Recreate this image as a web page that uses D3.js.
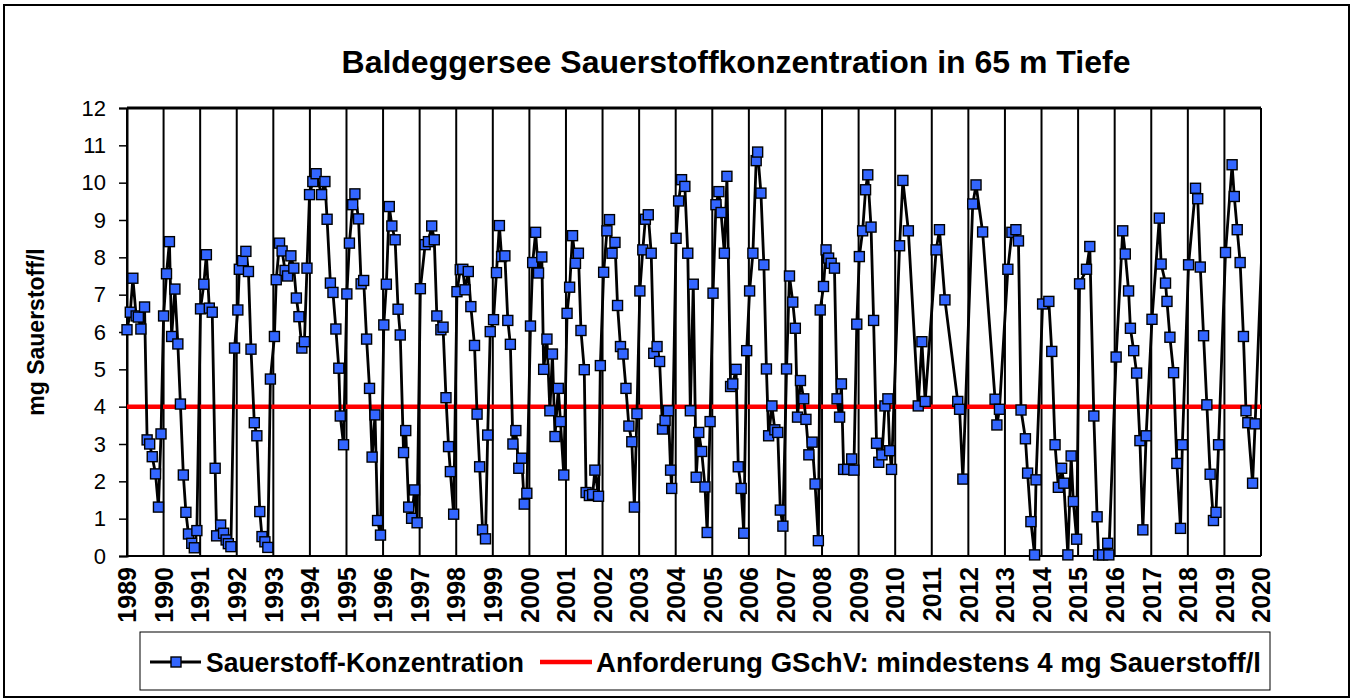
<!DOCTYPE html>
<html lang="de">
<head>
<meta charset="UTF-8">
<title>Baldeggersee Sauerstoffkonzentration</title>
<script src="https://d3js.org/d3.v7.min.js"></script>
<style>
    body { margin: 0; background: #ffffff; }
    svg { display: block; font-family: "Liberation Sans", Arial, sans-serif; }
    .grid line { stroke: #000; stroke-width: 2; }
    .ytick text { font-size: 22px; }
    .xtick text { font-size: 25px; font-weight: bold; }
</style>
</head>
<body>
<svg id="chart" width="1354" height="700"></svg>
<script>
// Messzeitpunkte (Dezimaljahr) und Sauerstoff in mg/l
const sampleYears = [
    1989.00, 1989.09, 1989.16, 1989.25, 1989.31, 1989.38, 1989.48, 1989.55, 1989.62, 1989.69, 1989.78, 1989.86, 1989.93,
    1990.00, 1990.08, 1990.16, 1990.22, 1990.31, 1990.39, 1990.46, 1990.54, 1990.61, 1990.68, 1990.77, 1990.84, 1990.91,
    1991.01, 1991.10, 1991.17, 1991.25, 1991.33, 1991.41, 1991.45, 1991.56, 1991.64, 1991.71, 1991.77, 1991.84, 1991.94,
    1992.03, 1992.07, 1992.16, 1992.25, 1992.32, 1992.39, 1992.48, 1992.55, 1992.63, 1992.69, 1992.77, 1992.85, 1992.92,
    1993.03, 1993.08, 1993.17, 1993.24, 1993.32, 1993.39, 1993.48, 1993.56, 1993.63, 1993.70, 1993.78, 1993.85, 1993.92, 1993.99,
    1994.08, 1994.17, 1994.32, 1994.41, 1994.47, 1994.56, 1994.63, 1994.71, 1994.79, 1994.83, 1994.92,
    1995.01, 1995.08, 1995.17, 1995.23, 1995.33, 1995.40, 1995.47, 1995.55, 1995.63, 1995.70, 1995.78, 1995.85, 1995.93,
    1996.02, 1996.09, 1996.17, 1996.24, 1996.33, 1996.41, 1996.47, 1996.56, 1996.62, 1996.70, 1996.78, 1996.86, 1996.93,
    1997.02, 1997.15, 1997.24, 1997.33, 1997.40, 1997.47, 1997.58, 1997.64, 1997.72, 1997.79, 1997.84, 1997.93,
    1998.02, 1998.11, 1998.18, 1998.24, 1998.33, 1998.40, 1998.50, 1998.57, 1998.64, 1998.72, 1998.80, 1998.86, 1998.93,
    1999.02, 1999.10, 1999.18, 1999.24, 1999.33, 1999.41, 1999.48, 1999.55, 1999.63, 1999.71, 1999.79, 1999.86, 1999.93,
    2000.03, 2000.09, 2000.17, 2000.25, 2000.34, 2000.39, 2000.48, 2000.56, 2000.63, 2000.70, 2000.79, 2000.85, 2000.94,
    2001.03, 2001.10, 2001.18, 2001.26, 2001.34, 2001.41, 2001.50, 2001.55, 2001.64, 2001.73, 2001.79, 2001.89, 2001.94,
    2002.03, 2002.12, 2002.19, 2002.26, 2002.34, 2002.41, 2002.49, 2002.56, 2002.64, 2002.72, 2002.80, 2002.87, 2002.94,
    2003.02, 2003.10, 2003.17, 2003.25, 2003.33, 2003.40, 2003.49, 2003.56, 2003.64, 2003.71, 2003.80, 2003.86, 2003.89,
    2004.01, 2004.08, 2004.16, 2004.25, 2004.33, 2004.40, 2004.48, 2004.56, 2004.63, 2004.71, 2004.80, 2004.86, 2004.94,
    2005.02, 2005.10, 2005.18, 2005.24, 2005.33, 2005.40, 2005.50, 2005.56, 2005.65, 2005.71, 2005.79, 2005.86, 2005.94,
    2006.02, 2006.11, 2006.20, 2006.24, 2006.33, 2006.41, 2006.48, 2006.54, 2006.63, 2006.71, 2006.79, 2006.86, 2006.93,
    2007.03, 2007.11, 2007.20, 2007.27, 2007.33, 2007.41, 2007.50, 2007.56, 2007.64, 2007.73, 2007.81, 2007.90, 2007.95,
    2008.04, 2008.11, 2008.18, 2008.25, 2008.34, 2008.41, 2008.48, 2008.53, 2008.59, 2008.70, 2008.81, 2008.87, 2008.95,
    2009.02, 2009.11, 2009.19, 2009.25, 2009.34, 2009.41, 2009.49, 2009.55, 2009.64, 2009.72, 2009.80, 2009.85, 2009.90,
    2010.12, 2010.21, 2010.36, 2010.63, 2010.73, 2010.82,
    2011.12, 2011.21, 2011.36, 2011.71, 2011.76, 2011.85,
    2012.12, 2012.21, 2012.39, 2012.73, 2012.78, 2012.85,
    2013.08, 2013.19, 2013.30, 2013.37, 2013.44, 2013.56, 2013.62, 2013.71, 2013.81, 2013.85,
    2014.03, 2014.20, 2014.28, 2014.37, 2014.46, 2014.55, 2014.61, 2014.72, 2014.81, 2014.87, 2014.96,
    2015.04, 2015.23, 2015.32, 2015.43, 2015.52, 2015.56, 2015.67, 2015.81, 2015.84,
    2016.04, 2016.22, 2016.29, 2016.38, 2016.43, 2016.52, 2016.60, 2016.69, 2016.77, 2016.86,
    2017.02, 2017.22, 2017.27, 2017.39, 2017.43, 2017.51, 2017.61, 2017.70, 2017.80, 2017.85,
    2018.02, 2018.21, 2018.27, 2018.34, 2018.43, 2018.52, 2018.61, 2018.70, 2018.77, 2018.84,
    2019.03, 2019.21, 2019.27, 2019.35, 2019.43, 2019.52, 2019.59, 2019.64, 2019.77, 2019.84,
    2020.06
];
const oxygen = [
    6.06, 6.53, 7.44, 6.43, 6.40, 6.08, 6.67, 3.11, 3.00, 2.66, 2.20, 1.31, 3.27,
    6.43, 7.56, 8.42, 5.88, 7.15, 5.68, 4.07, 2.17, 1.17, 0.59, 0.34, 0.22, 0.68,
    6.62, 7.28, 8.07, 6.64, 6.53, 2.35, 0.54, 0.83, 0.61, 0.43, 0.33, 0.25, 5.57,
    6.59, 7.68, 7.91, 8.16, 7.62, 5.54, 3.57, 3.22, 1.19, 0.52, 0.38, 0.23, 4.74,
    5.88, 7.40, 8.38, 8.17, 7.65, 7.50, 8.04, 7.71, 6.91, 6.41, 5.57, 5.74, 7.71, 9.68,
    10.03, 10.24, 9.68, 10.03, 9.02, 7.31, 7.06, 6.08, 5.03, 3.75, 2.98,
    7.02, 8.38, 9.41, 9.70, 9.03, 7.29, 7.38, 5.81, 4.49, 2.65, 3.78, 0.95, 0.56,
    6.19, 7.28, 9.36, 8.84, 8.47, 6.61, 5.92, 2.77, 3.36, 1.31, 1.01, 1.77, 0.89,
    7.16, 8.34, 8.42, 8.84, 8.47, 6.43, 6.06, 6.13, 4.24, 2.93, 2.26, 1.12,
    7.08, 7.67, 7.68, 7.13, 7.62, 6.68, 5.64, 3.80, 2.39, 0.70, 0.46, 3.24, 6.01,
    6.33, 7.59, 8.85, 8.02, 8.04, 6.31, 5.67, 3.00, 3.36, 2.35, 2.62, 1.39, 1.68,
    6.16, 7.86, 8.67, 7.58, 8.01, 5.00, 5.81, 3.89, 5.41, 3.20, 4.49, 3.60, 2.17,
    6.50, 7.20, 8.58, 7.84, 8.11, 6.04, 4.99, 1.70, 1.62, 1.65, 2.30, 1.60, 5.10,
    7.60, 8.71, 9.01, 8.11, 8.40, 6.71, 5.61, 5.41, 4.49, 3.48, 3.06, 1.31, 3.81,
    7.10, 8.20, 9.02, 9.14, 8.11, 5.43, 5.61, 5.21, 3.40, 3.63, 3.89, 2.30, 1.81,
    8.51, 9.51, 10.08, 9.90, 8.11, 3.89, 7.28, 2.11, 3.31, 2.80, 1.85, 0.63, 3.60,
    7.04, 9.41, 9.76, 9.20, 8.11, 10.17, 4.54, 4.61, 5.00, 2.39, 1.81, 0.61, 5.50,
    7.10, 8.11, 10.59, 10.82, 9.72, 7.80, 5.01, 3.22, 4.02, 3.38, 3.31, 1.23, 0.80,
    5.01, 7.50, 6.80, 6.10, 3.72, 4.70, 4.21, 3.66, 2.71, 3.05, 1.93, 0.41, 6.59,
    7.22, 8.20, 7.98, 7.84, 7.71, 4.21, 3.72, 4.61, 2.32, 2.32, 2.60, 2.30, 6.21,
    8.02, 8.71, 9.81, 10.21, 8.81, 6.31, 3.02, 2.51, 2.71, 4.02, 4.21, 2.82, 2.32,
    8.31, 10.06, 8.71, 4.02, 5.74, 4.14,
    8.20, 8.74, 6.86, 4.14, 3.93, 2.06,
    9.43, 9.94, 8.68, 4.20, 3.51, 3.93,
    7.68, 8.67, 8.74, 8.44, 3.91, 3.14, 2.22, 0.92, 0.03, 2.04,
    6.75, 6.82, 5.48, 2.98, 1.84, 2.35, 1.95, 0.03, 2.68, 1.46, 0.45,
    7.29, 7.68, 8.29, 3.75, 1.05, 0.03, 0.03, 0.34, 0.03,
    5.33, 8.71, 8.09, 7.10, 6.10, 5.50, 4.90, 3.09, 0.70, 3.22,
    6.34, 9.05, 7.82, 7.31, 6.82, 5.86, 4.91, 2.48, 0.74, 2.98,
    7.80, 9.85, 9.57, 7.74, 5.90, 4.05, 2.19, 0.95, 1.17, 2.98,
    8.13, 10.48, 9.63, 8.74, 7.86, 5.88, 3.89, 3.57, 1.95, 3.54,
    9.10
];
const yearTicks = d3.range(1989, 2021);
const valueTicks = d3.range(0, 13);
const limitValue = 4;
const seriesName = "Sauerstoff-Konzentration";
const limitName = "Anforderung GSchV: mindestens 4 mg Sauerstoff/l";
const title = "Baldeggersee Sauerstoffkonzentration in 65 m Tiefe";
const yTitle = "mg Sauerstoff/l";

const svg = d3.select("#chart");
const plotLeft = 127, plotRight = 1261, plotTop = 108, plotBottom = 556;

const x = d3.scaleLinear().domain([1989, 2020]).range([plotLeft, plotRight]);
const y = d3.scaleLinear().domain([0, 12]).range([plotBottom, plotTop]);

const points = sampleYears.map((t, i) => ({ t, v: oxygen[i] }));

// Rahmen um die ganze Grafik
svg.append("rect")
    .attr("x", 4).attr("y", 5).attr("width", 1345).attr("height", 692)
    .attr("fill", "#fff").attr("stroke", "#000").attr("stroke-width", 2);

svg.append("text")
    .attr("x", 736).attr("y", 73)
    .attr("text-anchor", "middle")
    .attr("font-size", 32).attr("font-weight", "bold")
    .text(title);

// senkrechte Jahreslinien
svg.append("g").attr("class", "grid")
    .selectAll("line")
    .data(yearTicks)
    .join("line")
    .attr("x1", d => x(d)).attr("x2", d => x(d))
    .attr("y1", plotTop).attr("y2", plotBottom);

// Rahmen Plotbereich
svg.append("line").attr("x1", plotLeft).attr("x2", plotRight).attr("y1", plotTop).attr("y2", plotTop)
    .attr("stroke", "#000").attr("stroke-width", 3);
svg.append("line").attr("x1", plotLeft).attr("x2", plotRight).attr("y1", plotBottom).attr("y2", plotBottom)
    .attr("stroke", "#000").attr("stroke-width", 2);

// y-Achse
const yAxis = svg.append("g")
    .attr("class", "ytick")
    .attr("transform", `translate(${plotLeft},0)`)
    .call(d3.axisLeft(y).tickValues(valueTicks).tickSize(8).tickPadding(13));
yAxis.select(".domain").attr("stroke-width", 2);
yAxis.selectAll(".tick line").attr("stroke-width", 1.5);
yAxis.selectAll("text").attr("fill", "#000");

// x-Achse, Jahreszahlen senkrecht
const xAxis = svg.append("g")
    .attr("class", "xtick")
    .attr("transform", `translate(0,${plotBottom})`)
    .call(d3.axisBottom(x).tickValues(yearTicks).tickFormat(d3.format("d")).tickSize(0));
xAxis.select(".domain").remove();
xAxis.selectAll("text")
    .attr("fill", "#000")
    .attr("transform", "rotate(-90)")
    .attr("text-anchor", "end")
    .attr("x", -11).attr("y", 0).attr("dy", "0.35em");

svg.append("text")
    .attr("transform", `translate(44,${(plotTop + plotBottom) / 2}) rotate(-90)`)
    .attr("text-anchor", "middle")
    .attr("font-size", 23).attr("font-weight", "bold")
    .text(yTitle);

// Grenzwert
svg.append("line")
    .attr("x1", x(1989)).attr("x2", x(2020))
    .attr("y1", y(limitValue)).attr("y2", y(limitValue))
    .attr("stroke", "#ff0000").attr("stroke-width", 4.5);

svg.append("clipPath").attr("id", "plotclip")
    .append("rect").attr("x", plotLeft).attr("y", 0).attr("width", plotRight - plotLeft).attr("height", plotBottom + 20);

const line = d3.line().x(d => x(d.t)).y(d => y(d.v));
svg.append("path")
    .datum(points)
    .attr("clip-path", "url(#plotclip)")
    .attr("fill", "none")
    .attr("stroke", "#000")
    .attr("stroke-width", 2.8)
    .attr("stroke-linejoin", "round")
    .attr("d", line);

const ms = 10;
svg.append("g")
    .selectAll("rect")
    .data(points.filter(d => d.t <= 2020))
    .join("rect")
    .attr("x", d => x(d.t) - ms / 2)
    .attr("y", d => y(d.v) - ms / 2)
    .attr("width", ms).attr("height", ms)
    .attr("fill", "#3366ff")
    .attr("stroke", "#000")
    .attr("stroke-width", 1.4);

// Legende
const lg = svg.append("g");
lg.append("rect")
    .attr("x", 140).attr("y", 632).attr("width", 1130).attr("height", 58)
    .attr("fill", "#fff").attr("stroke", "#000").attr("stroke-width", 1);
lg.append("line").attr("x1", 150).attr("x2", 201).attr("y1", 662).attr("y2", 662)
    .attr("stroke", "#000").attr("stroke-width", 2.8);
lg.append("rect").attr("x", 176 - ms / 2).attr("y", 662 - ms / 2).attr("width", ms).attr("height", ms)
    .attr("fill", "#3366ff").attr("stroke", "#000").attr("stroke-width", 1.4);
lg.append("text").attr("x", 206).attr("y", 672)
    .attr("font-size", 27).attr("font-weight", "bold")
    .attr("textLength", 318).attr("lengthAdjust", "spacingAndGlyphs")
    .text(seriesName);
lg.append("line").attr("x1", 540).attr("x2", 592).attr("y1", 662).attr("y2", 662)
    .attr("stroke", "#ff0000").attr("stroke-width", 4.5);
lg.append("text").attr("x", 596).attr("y", 672)
    .attr("font-size", 27).attr("font-weight", "bold")
    .attr("textLength", 665).attr("lengthAdjust", "spacingAndGlyphs")
    .text(limitName);
</script>
</body>
</html>
